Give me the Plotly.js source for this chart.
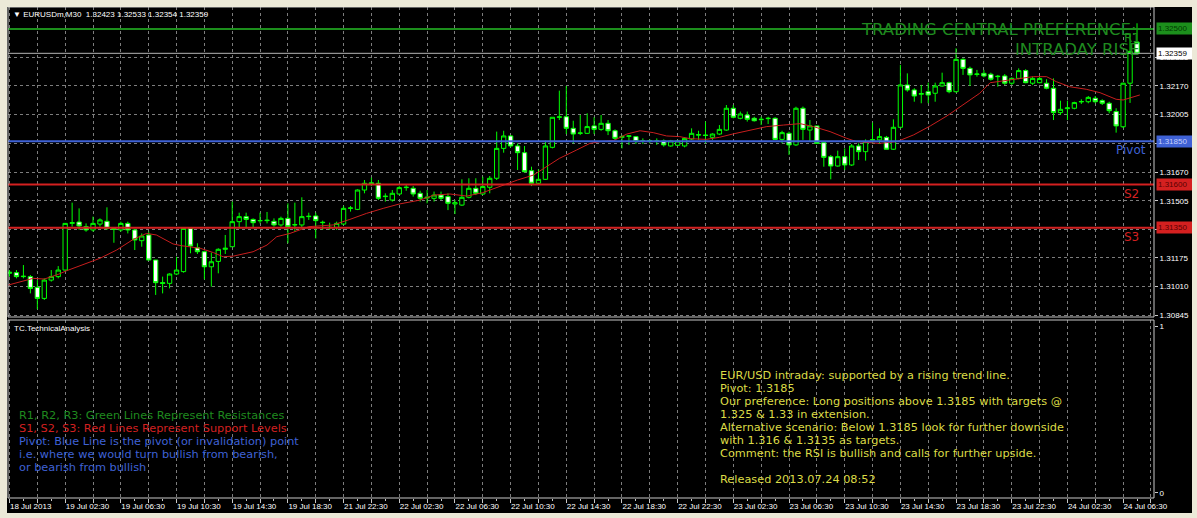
<!DOCTYPE html>
<html><head><meta charset="utf-8">
<script src="https://cdn.plot.ly/plotly-3.0.1.min.js"></script>
<style>
html,body{margin:0;padding:0;background:#ece9d8;width:1197px;height:518px;overflow:hidden}
#chart{position:absolute;left:7px;top:7px;width:1185px;height:506px}
</style></head><body><div id="chart"></div>
<script>
// ---- data (EURUSDm, M30) ----
const openP = [1.31086,1.31090,1.31067,1.31067,1.31005,1.30941,1.31047,1.31067,1.31105,1.31375,
1.31383,1.31356,1.31337,1.31371,1.31387,1.31346,1.31337,1.31375,1.31337,1.31275,
1.31308,1.31163,1.31032,1.31028,1.31082,1.31096,1.31346,1.31234,1.31211,1.31124,
1.31155,1.31225,1.31240,1.31385,1.31414,1.31398,1.31391,1.31391,1.31387,1.31366,
1.31404,1.31366,1.31366,1.31414,1.31418,1.31379,1.31350,1.31352,1.31371,1.31462,
1.31456,1.31568,1.31600,1.31607,1.31530,1.31510,1.31545,1.31582,1.31578,1.31549,
1.31522,1.31520,1.31539,1.31530,1.31487,1.31481,1.31526,1.31578,1.31545,1.31584,
1.31636,1.31809,1.31881,1.31823,1.31784,1.31680,1.31607,1.31630,1.31815,1.31989,
1.31992,1.31925,1.31896,1.31896,1.31939,1.31919,1.31954,1.31911,1.31873,1.31879,
1.31877,1.31850,1.31852,1.31852,1.31852,1.31823,1.31827,1.31823,1.31863,1.31886,
1.31886,1.31873,1.31892,1.31915,1.32041,1.31983,1.32002,1.31983,1.31975,1.31981,
1.31983,1.31861,1.31896,1.31829,1.32041,1.31915,1.31939,1.31842,1.31761,1.31707,
1.31761,1.31713,1.31823,1.31790,1.31856,1.31858,1.31873,1.31804,1.31931,1.32176,
1.32147,1.32122,1.32137,1.32128,1.32170,1.32189,1.32137,1.32324,1.32272,1.32237,
1.32243,1.32238,1.32224,1.32228,1.32186,1.32214,1.32259,1.32186,1.32189,1.32186,
1.32157,1.32016,1.32039,1.32041,1.32078,1.32079,1.32099,1.32085,1.32070,1.32022,
1.31934,1.32186,1.32423];
const highP = [1.31105,1.31105,1.31134,1.31076,1.31047,1.31057,1.31105,1.31128,1.31375,1.31495,
1.31462,1.31375,1.31414,1.31404,1.31468,1.31352,1.31385,1.31385,1.31341,1.31317,
1.31327,1.31163,1.31067,1.31086,1.31182,1.31346,1.31350,1.31260,1.31217,1.31206,
1.31231,1.31308,1.31501,1.31437,1.31437,1.31404,1.31437,1.31441,1.31404,1.31414,
1.31491,1.31495,1.31526,1.31437,1.31437,1.31391,1.31379,1.31385,1.31476,1.31476,
1.31572,1.31626,1.31640,1.31626,1.31549,1.31568,1.31590,1.31597,1.31591,1.31564,
1.31568,1.31559,1.31559,1.31549,1.31510,1.31630,1.31636,1.31636,1.31645,1.31649,
1.31906,1.31911,1.31886,1.31838,1.31823,1.31703,1.31688,1.31854,1.31989,1.32143,
1.32170,1.31969,1.32002,1.32012,1.31989,1.32002,1.31973,1.31919,1.31886,1.31886,
1.31881,1.31867,1.31861,1.31867,1.31861,1.31858,1.31858,1.31873,1.31925,1.31911,
1.31964,1.31896,1.31944,1.32060,1.32060,1.32022,1.32022,1.31992,1.31992,1.31992,
1.31989,1.31911,1.31906,1.32050,1.32051,1.31973,1.31939,1.31848,1.31771,1.31796,
1.31809,1.31834,1.31838,1.31861,1.31958,1.31925,1.31881,1.31977,1.32292,1.32243,
1.32157,1.32176,1.32189,1.32189,1.32247,1.32195,1.32388,1.32330,1.32282,1.32263,
1.32263,1.32247,1.32234,1.32239,1.32220,1.32272,1.32267,1.32224,1.32224,1.32209,
1.32214,1.32085,1.32085,1.32079,1.32093,1.32112,1.32112,1.32093,1.32079,1.32041,
1.32189,1.32475,1.32533];
const lowP = [1.31067,1.31057,1.31057,1.30970,1.30878,1.30932,1.31038,1.31057,1.31101,1.31356,
1.31337,1.31327,1.31327,1.31356,1.31337,1.31263,1.31327,1.31317,1.31221,1.31240,
1.31163,1.30961,1.30970,1.30999,1.31076,1.31090,1.31202,1.31198,1.31051,1.31009,
1.31086,1.31198,1.31240,1.31346,1.31346,1.31352,1.31375,1.31375,1.31356,1.31356,
1.31260,1.31327,1.31346,1.31395,1.31288,1.31337,1.31337,1.31337,1.31366,1.31443,
1.31452,1.31549,1.31590,1.31510,1.31501,1.31501,1.31539,1.31564,1.31530,1.31501,
1.31491,1.31501,1.31510,1.31452,1.31429,1.31476,1.31520,1.31539,1.31539,1.31549,
1.31626,1.31784,1.31815,1.31684,1.31669,1.31591,1.31597,1.31626,1.31809,1.31973,
1.31892,1.31838,1.31886,1.31892,1.31892,1.31911,1.31886,1.31858,1.31809,1.31829,
1.31834,1.31834,1.31838,1.31829,1.31819,1.31819,1.31823,1.31815,1.31858,1.31858,
1.31838,1.31858,1.31886,1.31911,1.31983,1.31977,1.31964,1.31964,1.31944,1.31950,
1.31858,1.31838,1.31771,1.31823,1.31858,1.31848,1.31834,1.31703,1.31630,1.31703,
1.31684,1.31707,1.31742,1.31738,1.31838,1.31834,1.31804,1.31800,1.31925,1.32137,
1.32079,1.32070,1.32070,1.32079,1.32166,1.32128,1.32131,1.32234,1.32170,1.32224,
1.32220,1.32201,1.32166,1.32176,1.32176,1.32209,1.32186,1.32176,1.32186,1.32151,
1.31973,1.32002,1.31973,1.32035,1.32066,1.32070,1.32070,1.32060,1.32012,1.31900,
1.31927,1.32072,1.32354];
const closeP = [1.31092,1.31067,1.31069,1.30999,1.30941,1.31047,1.31067,1.31105,1.31375,1.31379,
1.31360,1.31337,1.31375,1.31395,1.31346,1.31341,1.31375,1.31337,1.31279,1.31302,
1.31163,1.31032,1.31028,1.31082,1.31105,1.31346,1.31244,1.31211,1.31124,1.31153,
1.31225,1.31231,1.31385,1.31414,1.31398,1.31379,1.31391,1.31393,1.31366,1.31404,
1.31356,1.31368,1.31414,1.31416,1.31391,1.31381,1.31352,1.31375,1.31462,1.31464,
1.31568,1.31607,1.31610,1.31520,1.31532,1.31549,1.31582,1.31584,1.31545,1.31520,
1.31526,1.31539,1.31520,1.31491,1.31495,1.31526,1.31578,1.31549,1.31588,1.31636,
1.31809,1.31881,1.31823,1.31784,1.31674,1.31607,1.31630,1.31823,1.31989,1.31991,
1.31925,1.31892,1.31898,1.31935,1.31919,1.31954,1.31911,1.31867,1.31877,1.31881,
1.31848,1.31852,1.31854,1.31850,1.31829,1.31852,1.31852,1.31867,1.31896,1.31888,
1.31884,1.31892,1.31919,1.32041,1.31989,1.32008,1.31977,1.31969,1.31977,1.31983,
1.31861,1.31900,1.31829,1.32041,1.31919,1.31939,1.31838,1.31757,1.31707,1.31761,
1.31713,1.31823,1.31790,1.31848,1.31860,1.31877,1.31804,1.31931,1.32176,1.32147,
1.32112,1.32126,1.32118,1.32170,1.32189,1.32137,1.32324,1.32272,1.32234,1.32239,
1.32228,1.32209,1.32226,1.32186,1.32214,1.32259,1.32189,1.32214,1.32213,1.32157,
1.32016,1.32035,1.32043,1.32074,1.32080,1.32104,1.32079,1.32070,1.32027,1.31939,
1.32186,1.32370,1.32359];

// red moving-average line, read at positions along the bars
const maX = [-0.2,3.4,5,7,8.2,13,15.4,17.8,19.7,21.1,23.5,24.7,27.4,29.3,30.7,32.2,35,37,38.4,40.3,
43,46.5,48.9,51.3,53.7,56,59,61,63.3,65.7,68,70.5,73,75.3,77.2,79,81.5,83.4,84.9,86.8,
88.7,90.6,92.5,94.4,96.3,97.8,100.1,102,103.9,106.4,108.8,111.2,113.6,115.5,117.9,120.3,121.7,125,127.5,129.9,
132.3,134.7,137,139.4,140.9,144.2,147.1,149,150.4,152.3,154.7,156.7,159,160,161.5,162.4];
const maY = [1.31018,1.31057,1.31053,1.31080,1.31101,1.31173,1.31221,1.31283,1.31317,1.31308,
1.31256,1.31246,1.31231,1.31206,1.31182,1.31186,1.31211,1.31250,1.31298,1.31317,
1.31356,1.31366,1.31398,1.31433,1.31462,1.31487,1.31510,1.31539,1.31545,1.31533,
1.31553,1.31591,1.31626,1.31655,1.31703,1.31751,1.31800,1.31838,1.31848,1.31854,
1.31892,1.31911,1.31900,1.31881,1.31877,1.31865,1.31861,1.31873,1.31892,1.31915,
1.31935,1.31944,1.31952,1.31935,1.31906,1.31867,1.31848,1.31838,1.31848,1.31887,
1.31939,1.31997,1.32060,1.32128,1.32189,1.32209,1.32224,1.32224,1.32195,1.32166,
1.32151,1.32131,1.32093,1.32089,1.32105,1.32118];

const timeLabels = ['18 Jul 2013','19 Jul 02:30','19 Jul 06:30','19 Jul 10:30','19 Jul 14:30','19 Jul 18:30',
'21 Jul 22:30','22 Jul 02:30','22 Jul 06:30','22 Jul 10:30','22 Jul 14:30','22 Jul 18:30','22 Jul 22:30',
'23 Jul 02:30','23 Jul 06:30','23 Jul 10:30','23 Jul 14:30','23 Jul 18:30','23 Jul 22:30','24 Jul 02:30','24 Jul 06:30'];
const priceTicks = [1.30845,1.31010,1.31175,1.31340,1.31505,1.31670,1.31837,1.32005,1.32170,1.32335];
const priceTickText = ['1.30845','1.31010','1.31175','','1.31505','1.31670','','1.32005','1.32170','1.32335'];

const levelNames = ['R1','Pivot','S2','S3'];
const levelValues = [1.32500,1.31850,1.31600,1.31350];
const levelColors = ['#1c8f1c','#3f62d6','#d42020','#d42020'];
const bidPrice = 1.32359;

const legendLines = ['R1, R2, R3: Green Lines Represent Resistances',
  'S1, S2, S3: Red Lines Represent Support Levels',
  'Pivot: Blue Line is the pivot (or invalidation) point',
  'i.e. where we would turn bullish from bearish,',
  'or bearish from bullish'];
const legendColors = ['#1f8a1f','#d42020','#3f62d6','#3f62d6','#3f62d6'];
const commentLines = ['EUR/USD intraday: supported by a rising trend line.',
  'Pivot: 1.3185',
  'Our preference: Long positions above 1.3185 with targets @',
  '1.325 &amp; 1.33 in extension.',
  'Alternative scenario: Below 1.3185 look for further downside',
  'with 1.316 &amp; 1.3135 as targets.',
  'Comment: the RSI is bullish and calls for further upside.',
  '',
  'Released 2013.07.24 08:52'];

// ---- geometry helpers (pixel -> paper) ----
const PL = 8, PR = 1154, PT = 7, PB = 498;
const px = x => (x - PL) / (PR - PL);
const py = y => (PB - y) / (PB - PT);

const idx = openP.map((_, i) => i);
const gridVals = [], gridText = [];
for (let k = 0; k <= 41; k++) { gridVals.push(4 * k); gridText.push(k % 2 === 0 && timeLabels[k / 2] ? timeLabels[k / 2] : ''); }

const gridCol = '#7d7d7d';
const axFont = {family: 'Liberation Sans, Arial, sans-serif', size: 8, color: '#ffffff'};
const txtFont = (c, s) => ({family: 'DejaVu Sans, Verdana, sans-serif', size: s || 11.3, color: c});

const traces = [
  {type: 'candlestick', x: idx, open: openP, high: highP, low: lowP, close: closeP,
   xaxis: 'x', yaxis: 'y', whiskerwidth: 0, hoverinfo: 'none', showlegend: false,
   increasing: {line: {color: '#00ff00', width: 1}, fillcolor: '#000000'},
   decreasing: {line: {color: '#00ff00', width: 1}, fillcolor: '#ffffff'}},
  {type: 'scatter', mode: 'lines', x: maX, y: maY, xaxis: 'x', yaxis: 'y',
   line: {color: '#c81e1e', width: 1}, hoverinfo: 'none', showlegend: false},
  {type: 'scatter', mode: 'lines', x: [], y: [], xaxis: 'x', yaxis: 'y2', showlegend: false, hoverinfo: 'none'}
];

const shapes = [];
shapes.push({type: 'line', xref: 'paper', x0: 0, x1: 1, yref: 'y', y0: bidPrice, y1: bidPrice, line: {color: '#b4b4b4', width: 1}});
levelValues.forEach((v, i) => shapes.push({type: 'line', xref: 'paper', x0: 0, x1: 1, yref: 'y', y0: v, y1: v,
  line: {color: levelColors[i], width: 2}}));
shapes.push({type: 'rect', xref: 'paper', yref: 'paper', x0: 0, x1: 1, y0: py(317), y1: 1, line: {color: '#c8c8c8', width: 1}});
shapes.push({type: 'rect', xref: 'paper', yref: 'paper', x0: 0, x1: 1, y0: 0, y1: py(320), line: {color: '#c8c8c8', width: 1}});

const ann = [];
ann.push({xref: 'paper', yref: 'paper', x: px(11), y: py(14), xanchor: 'left', yanchor: 'middle', showarrow: false,
  text: '\u25BC EURUSDm,M30  1.32423 1.32533 1.32354 1.32359', font: axFont});
ann.push({xref: 'paper', yref: 'paper', x: px(12), y: py(328), xanchor: 'left', yanchor: 'middle', showarrow: false,
  text: 'TC.TechnicalAnalysis', font: axFont});
ann.push({xref: 'paper', yref: 'paper', x: px(1139), y: py(30), xanchor: 'right', yanchor: 'middle', showarrow: false,
  text: 'TRADING CENTRAL PREFERENCE:', font: txtFont('#1f8a1f', 16.5)});
ann.push({xref: 'paper', yref: 'paper', x: px(1141), y: py(49), xanchor: 'right', yanchor: 'middle', showarrow: false,
  text: 'INTRADAY RISE', font: txtFont('#1f8a1f', 16.5)});
const nameX = [1122, 1114, 1122, 1122];
levelNames.forEach((n, i) => ann.push({xref: 'paper', yref: 'y', x: px(nameX[i]), y: levelValues[i], xanchor: 'left', yanchor: 'top',
  yshift: 0, showarrow: false, text: n, font: txtFont(levelColors[i], 12)}));
const boxTxt = ['#003a00', '#c8d0ff', '#5a0000', '#5a0000'];
levelValues.forEach((v, i) => ann.push({xref: 'paper', yref: 'y', x: px(1156), y: v, xanchor: 'left', yanchor: 'middle',
  showarrow: false, text: v.toFixed(5), bgcolor: levelColors[i], borderpad: 1, width: 34, align: 'left',
  font: {family: axFont.family, size: 8, color: boxTxt[i]}}));
ann.push({xref: 'paper', yref: 'y', x: px(1156), y: bidPrice, xanchor: 'left', yanchor: 'middle', showarrow: false,
  text: bidPrice.toFixed(5), bgcolor: '#ffffff', borderpad: 1, width: 34, align: 'left',
  font: {family: axFont.family, size: 8, color: '#000000'}});
legendLines.forEach((t, i) => ann.push({xref: 'paper', yref: 'paper', x: px(17), y: py(415 + 13 * i), xanchor: 'left', yanchor: 'middle',
  showarrow: false, align: 'left', text: t, font: txtFont(legendColors[i])}));
commentLines.forEach((t, i) => { if (t) ann.push({xref: 'paper', yref: 'paper', x: px(718), y: py(375 + 13.1 * i), xanchor: 'left', yanchor: 'middle',
  showarrow: false, align: 'left', text: t, font: txtFont('#dcdc46')}); });

const layout = {
  width: 1185, height: 506, margin: {l: 1, r: 38, t: 0, b: 15, pad: 0},
  paper_bgcolor: '#000000', plot_bgcolor: '#000000', showlegend: false,
  boxgap: 0.38, boxgroupgap: 0,
  xaxis: {range: [(PL - 9.5) / 6.96, (PR - 9.5) / 6.96], anchor: 'y2', tickmode: 'array', tickvals: gridVals, ticktext: gridText,
    ticklabelposition: 'outside right', ticks: 'outside', ticklen: 4, tickcolor: '#c8c8c8', tickfont: axFont,
    showgrid: true, gridcolor: gridCol, griddash: '3px,3px', gridwidth: 1, zeroline: false, showline: false,
    minor: {tickmode: 'linear', tick0: 0, dtick: 2, ticks: 'outside', ticklen: 2, tickcolor: '#c8c8c8', showgrid: false},
    rangeslider: {visible: false}, fixedrange: true},
  yaxis: {domain: [py(317), 1], range: [1.308334, 1.32627], side: 'right', anchor: 'x', tickmode: 'array', tickvals: priceTicks,
    ticktext: priceTickText, ticks: 'outside', ticklen: 3, tickcolor: '#c8c8c8', tickfont: axFont, showgrid: true,
    gridcolor: gridCol, griddash: '3px,3px', gridwidth: 1, zeroline: false, showline: false, fixedrange: true},
  yaxis2: {domain: [0, py(320)], range: [-0.03, 1.036], side: 'right', anchor: 'x', tickmode: 'array', tickvals: [0, 1],
    ticktext: ['0', '1'], ticks: 'outside', ticklen: 3, tickcolor: '#c8c8c8', tickfont: axFont, showgrid: false,
    zeroline: false, showline: false, fixedrange: true},
  shapes: shapes, annotations: ann
};

Plotly.newPlot('chart', traces, layout, {staticPlot: true, displayModeBar: false});
</script></body></html>
